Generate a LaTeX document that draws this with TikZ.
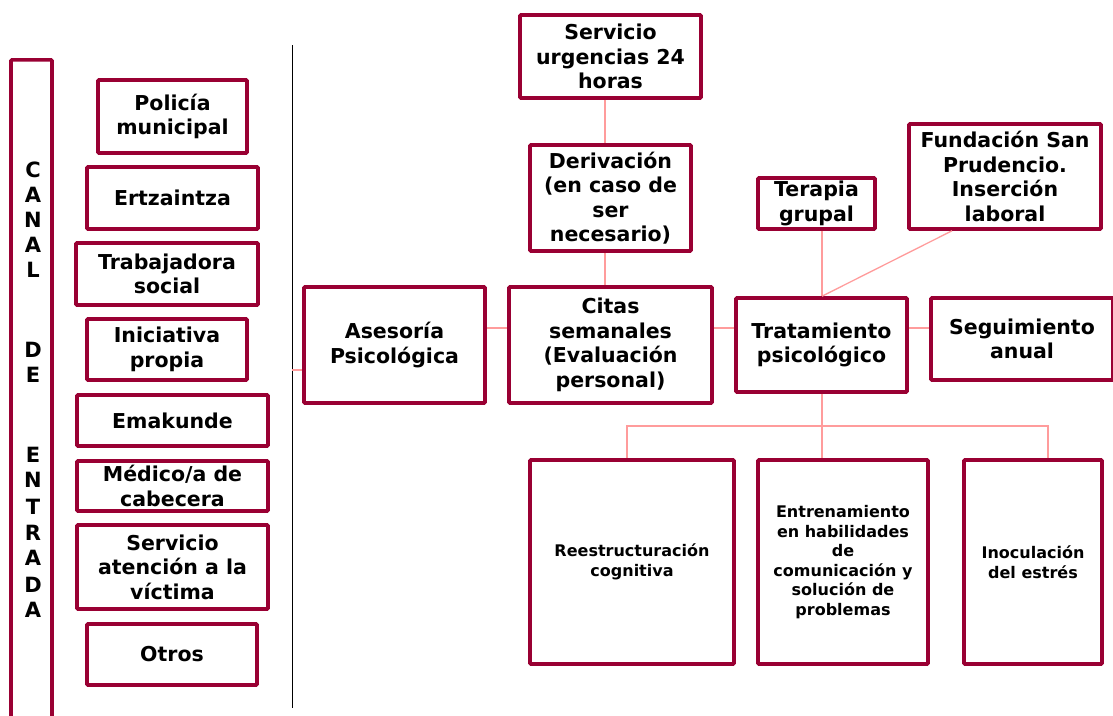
\documentclass[tikz,border=0pt]{standalone}
\usepackage{fontspec}
\setmainfont{DejaVu Sans}
\definecolor{crim}{HTML}{990033}
\definecolor{pinkline}{HTML}{FF9C9C}
\begin{document}
\begin{tikzpicture}[x=1pt,y=-1pt,
 box/.style={draw=crim, line width=3.6pt, rounded corners=1pt, align=center, inner sep=0pt, text=black, font=\bfseries\fontsize{20.5}{24.5}\selectfont},
 sbox/.style={box, font=\bfseries\fontsize{16}{19.6}\selectfont},
 conn/.style={draw=pinkline, line width=1.3pt},
 letter/.style={font=\bfseries\fontsize{21}{24}\selectfont, inner sep=0pt, text=black}]
\useasboundingbox (0,0) rectangle (1113,715);
\clip (0,0) rectangle (1113,715);
\fill[white] (0,0) rectangle (1113,715);

% left column
\node[draw=crim, line width=3.6pt, rounded corners=1pt, minimum width=41pt, minimum height=690pt, anchor=north, inner sep=0pt] (canal) at (31.5,58) {};
\foreach \ch/\yy [count=\i] in {C/170,A/195,N/220,A/245,L/270,D/350,E/375,E/455,N/480,T/507,R/533,A/558,D/585,A/610}
  \node[letter] (lt\i) at (33,\yy) {\ch};

\node[box, minimum width=149pt, minimum height=73pt] (pol) at (172.5,116.5) {Policía\\municipal};
\node[box, minimum width=171pt, minimum height=62pt] (ert) at (172.5,198) {Ertzaintza};
\node[box, minimum width=182pt, minimum height=62pt] (tra) at (167,274) {Trabajadora\\social};
\node[box, minimum width=160pt, minimum height=61pt] (ini) at (167,349.5) {Iniciativa\\propia};
\node[box, minimum width=191pt, minimum height=51pt] (ema) at (172.5,420.5) {Emakunde};
\node[box, minimum width=191pt, minimum height=50pt] (med) at (172.5,486) {Médico/a de\\cabecera};
\node[box, minimum width=191pt, minimum height=84pt] (vic) at (172.5,567) {Servicio\\atención a la\\víctima};
\node[box, minimum width=170pt, minimum height=61pt] (otr) at (172,654.5) {Otros};

% divider
\coordinate (dtop) at (292,45);
\coordinate (dbot) at (292,708);
\draw[black, line width=1pt] (dtop) -- (dbot);

% main flow
\node[box, minimum width=181pt, minimum height=116pt] (ases) at (394.5,345) {Asesoría\\Psicológica};
\node[box, minimum width=203pt, minimum height=116pt] (citas) at (610.5,345) {Citas\\semanales\\(Evaluación\\personal)};
\node[box, minimum width=181pt, minimum height=83pt] (urg) at (610.5,56.5) {Servicio\\urgencias 24\\horas};
\node[box, minimum width=161pt, minimum height=106pt] (der) at (610.5,198) {Derivación\\(en caso de\\ser\\necesario)};
\node[box, minimum width=117pt, minimum height=51pt] (ter) at (816.5,203.5) {Terapia\\grupal};
\node[box, minimum width=192pt, minimum height=105pt] (fun) at (1005,176.5) {Fundación San\\Prudencio.\\Inserción\\laboral};
\node[box, minimum width=171pt, minimum height=94pt] (trat) at (821.5,345) {Tratamiento\\psicológico};
\node[box, minimum width=182pt, minimum height=82pt] (seg) at (1022,339) {Seguimiento\\anual};
\node[sbox, minimum width=204pt, minimum height=204pt] (ree) at (632,562) {Reestructuración\\cognitiva};
\node[sbox, minimum width=170pt, minimum height=204pt] (ent) at (843,562) {Entrenamiento\\en habilidades\\de\\comunicación y\\solución de\\problemas};
\node[sbox, minimum width=138pt, minimum height=204pt] (ino) at (1033,562) {Inoculación\\del estrés};

% connectors
\coordinate (dv) at (292,370);
\coordinate (row) at (0,328);
\coordinate (col) at (605,0);
\coordinate (fj) at (952,0);
\coordinate (bus) at (0,426);
\coordinate (cl) at (627,0);
\coordinate (cr) at (1048,0);
\coordinate (tc) at (822,0);
\draw[conn] (dv) -- (dv -| ases.west);
\draw[conn] (ases.east |- row) -- (citas.west |- row);
\draw[conn] (citas.east |- row) -- (trat.west |- row);
\draw[conn] (trat.east |- row) -- (seg.west |- row);
\draw[conn] (urg.south -| col) -- (der.north -| col);
\draw[conn] (der.south -| col) -- (citas.north -| col);
\draw[conn] (ter.south -| tc) -- (trat.north -| tc);
\draw[conn] (fun.south -| fj) -- (trat.north -| tc);
\draw[conn] (trat.south -| tc) -- (ent.north -| tc);
\draw[conn] (ree.north -| cl) |- (bus -| tc);
\draw[conn] (ino.north -| cr) |- (bus -| tc);
\end{tikzpicture}
\end{document}
